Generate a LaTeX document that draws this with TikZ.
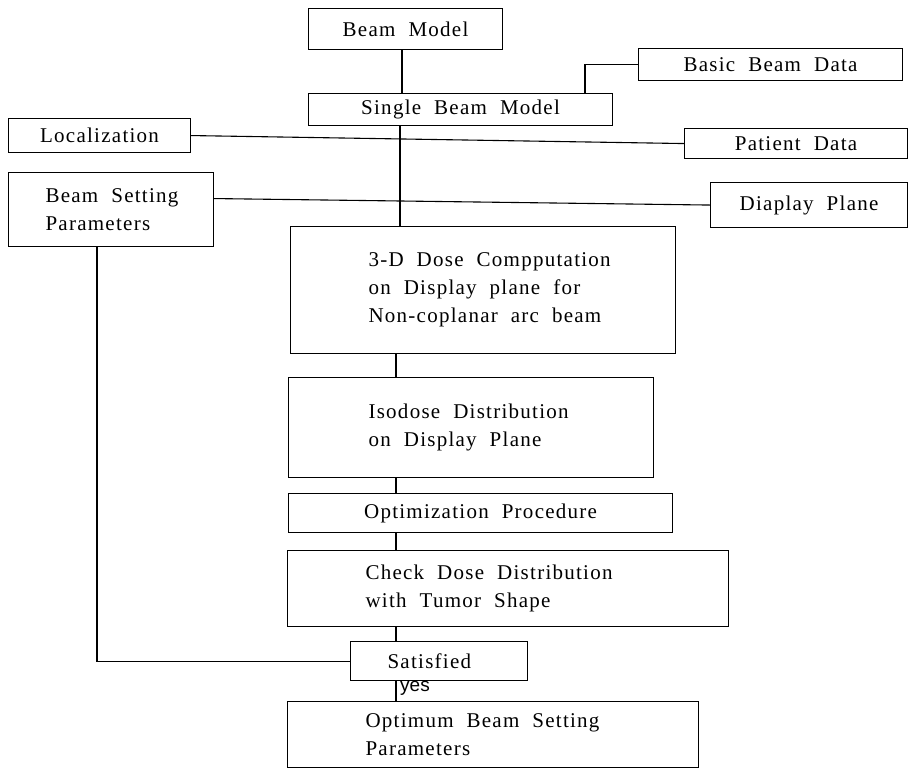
\documentclass[tikz,border=0pt]{standalone}
\usepackage{fontspec}
\setmainfont{Liberation Serif}[LetterSpace=6,WordSpace=2]
\newfontfamily\yesfont{Liberation Sans}
\begin{document}
\begin{tikzpicture}[x=1pt,y=-1pt,
  box/.style={draw, line width=1.1pt, rectangle, inner sep=0pt, anchor=north west,
    font=\fontsize{21}{28}\selectfont,
    execute at begin node={\spaceskip=0pt\xspaceskip=0pt\relax}},
  lbox/.style={box, align=left, execute at begin node={\leftskip=#1pt\relax}},
  conn/.style={line width=1.1pt}]
\useasboundingbox (0,0) rectangle (909,769);
% boxes
\node[box, minimum width=194, minimum height=41] (bm) at (308,8) {Beam Model};
\node[box, minimum width=264, minimum height=32] (bbd) at (638,48) {Basic Beam Data};
\node[box, minimum width=304, minimum height=32] (sbm) at (308,93) {Single Beam Model};
\node[box, minimum width=182, minimum height=34] (loc) at (8,118) {Localization};
\node[box, minimum width=223, minimum height=30] (pd) at (684,128) {Patient Data};
\node[lbox=37, text width=205, minimum height=74] (bsp) at (8,172) {Beam Setting\\Parameters};
\node[box, minimum width=197, minimum height=45] (dp) at (710,182) {Diaplay Plane};
\node[lbox=78, text width=385, minimum height=127] (dose) at (290,226) {3-D Dose Compputation\\on Display plane for\\Non-coplanar arc beam};
\node[lbox=80, text width=365, minimum height=100] (iso) at (288,377) {Isodose Distribution\\on Display Plane};
\node[box, minimum width=384, minimum height=39] (opt) at (288,493) {Optimization Procedure};
\node[lbox=78, text width=441, minimum height=76] (chk) at (287,550) {Check Dose Distribution\\with Tumor Shape};
\node[lbox=37, text width=177, minimum height=39] (sat) at (350,641) {Satisfied};
\node[lbox=78, text width=411, minimum height=66] (optm) at (287,701) {Optimum Beam Setting\\Parameters};
\node[anchor=west, inner sep=0pt, font=\yesfont\fontsize{19}{19}\selectfont] (yes) at (400,688) {yes};
% reference x positions
\coordinate (xa) at (402,0);
\coordinate (xb) at (585,0);
\coordinate (xc) at (400,0);
\coordinate (xd) at (396,0);
\coordinate (xe) at (97,0);
% connectors
\draw[conn] (bm.south -| xa) -- (sbm.north -| xa);
\draw[conn] (sbm.north -| xb) |- (bbd.west);
\draw[conn] (loc.east) -- (pd.west);
\draw[conn] ([yshift=11pt]bsp.east) -- (dp.west);
\draw[conn] (sbm.south -| xc) -- (dose.north -| xc);
\draw[conn] (dose.south -| xd) -- (iso.north -| xd);
\draw[conn] (iso.south -| xd) -- (opt.north -| xd);
\draw[conn] (opt.south -| xd) -- (chk.north -| xd);
\draw[conn] (chk.south -| xd) -- (sat.north -| xd);
\draw[conn] (sat.south -| xd) -- (optm.north -| xd);
\draw[conn] (bsp.south -| xe) |- (sat.west);
\end{tikzpicture}
\end{document}
